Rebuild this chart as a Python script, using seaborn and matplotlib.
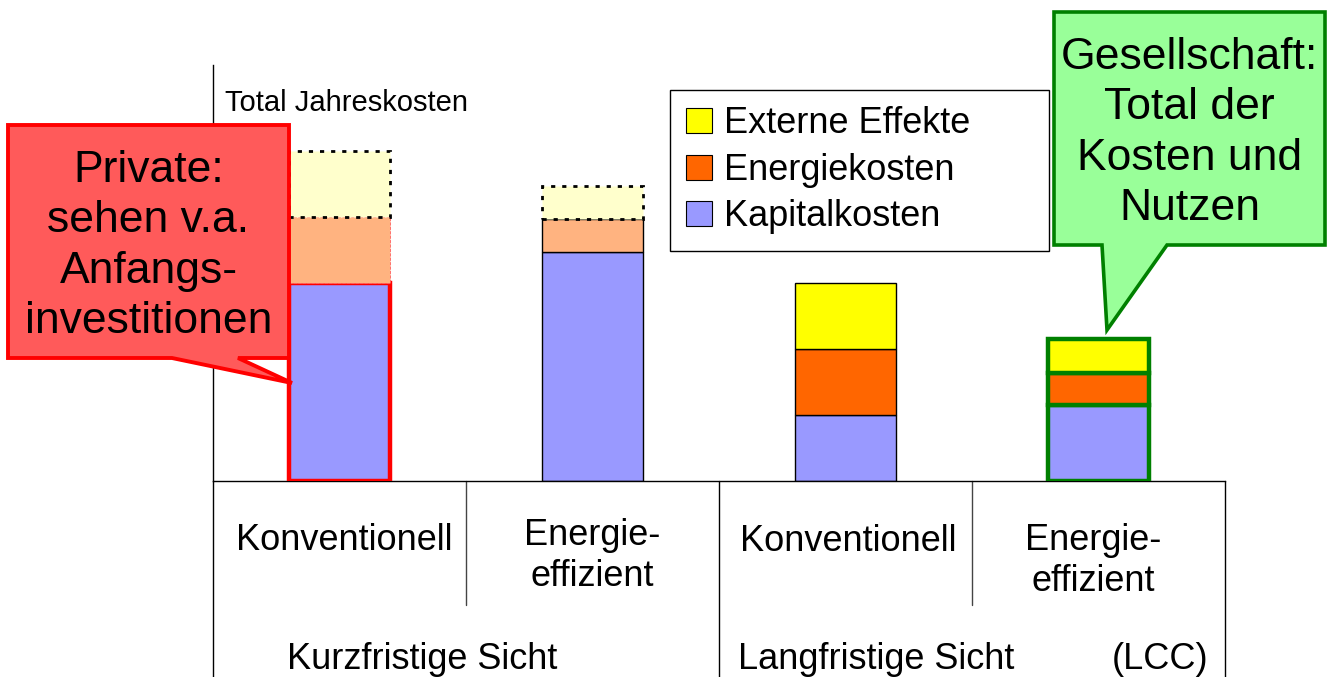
import matplotlib
matplotlib.use("Agg")
import matplotlib.pyplot as plt
import matplotlib.transforms as mtransforms
from matplotlib.patches import Patch, Polygon
import seaborn as sns

# Data (1 unit ~ one sixth of the first capital cost bar)
keys = ["konv_kurz", "eff_kurz", "konv_lang", "eff_lang"]
row1_labels = ["Konventionell", "Energie-\neffizient", "Konventionell", "Energie-\neffizient"]
kapital = [6.0, 6.95, 2.0, 2.3]
energie = [2.0, 1.0, 2.0, 0.97]
extern = [2.0, 1.0, 2.0, 1.03]
series_names = ["Kapitalkosten", "Energiekosten", "Externe Effekte"]

sns.set_style("white")
plt.rcParams["font.family"] = ["Liberation Sans", "DejaVu Sans"]
plt.rcParams["text.color"] = "black"

W, H = 1330, 677
fig = plt.figure(figsize=(W / 100, H / 100), dpi=100)
ax = fig.add_axes([213 / W, 1 - 481 / H, (1225 - 213) / W, (481 - 65) / H])

# stacked bars, one seaborn call per layer
bottom1 = kapital
bottom2 = [a + b for a, b in zip(kapital, energie)]
layers = [(kapital, None), (energie, bottom1), (extern, bottom2)]
groups = []
for vals, bot in layers:
    n0 = len(ax.patches)
    kw = {} if bot is None else {"bottom": bot}
    sns.barplot(x=keys, y=vals, width=0.4, errorbar=None, color="#9999FF", ax=ax, **kw)
    groups.append(ax.patches[n0:])

faces = [
    ["#9999FF"] * 4,
    ["#FFB380", "#FFB380", "#FF6600", "#FF6600"],
    ["#FFFFCC", "#FFFFCC", "#FFFF00", "#FFFF00"],
]
edges = [
    ["#FF0000", "black", "black", "#008000"],
    ["#FF6060", "black", "black", "#008000"],
    ["black", "black", "black", "#008000"],
]
widths = [
    [3.2, 1.0, 1.0, 3.2],
    [0.6, 1.0, 1.0, 3.2],
    [2.0, 2.0, 1.0, 3.2],
]
dotted = (0, (1.5, 2.5))
styles = [
    ["-", "-", "-", "-"],
    ["--", "-", "-", "-"],
    [dotted, dotted, "-", "-"],
]
for li, grp in enumerate(groups):
    for bi, p in enumerate(grp):
        p.set_facecolor(faces[li][bi])
        p.set_edgecolor(edges[li][bi])
        p.set_linewidth(widths[li][bi])
        p.set_linestyle(styles[li][bi])
# draw the callout-highlighted stacks on top
for grp in groups:
    grp[0].set_zorder(3)
    grp[3].set_zorder(3)

ax.set_xlim(-0.5, 3.5)
ax.set_ylim(0, 12.6)
ax.set_xticks([])
ax.set_yticks([])
ax.set_xlabel("")
ax.set_ylabel("")
for s in ["top", "right"]:
    ax.spines[s].set_visible(False)
for s in ["left", "bottom"]:
    ax.spines[s].set_linewidth(1.0)
    ax.spines[s].set_color("black")

ax.text(-0.453, 11.45, "Total Jahreskosten", fontsize=21, ha="left", va="center")

# category table below the bars
ymin = -5.94
ysep = -3.76
line_kw = dict(color="black", lw=1.0, clip_on=False)
ax.plot([-0.5, -0.5], [ymin, 0], **line_kw)
ax.plot([1.5, 1.5], [ymin, 0], **line_kw)
ax.plot([3.5, 3.5], [ymin, 0], **line_kw)
ax.plot([0.5, 0.5], [ysep, 0], color="#444444", lw=1.0, clip_on=False)
ax.plot([2.5, 2.5], [ysep, 0], color="#444444", lw=1.0, clip_on=False)

row1_y = [-1.79, -2.27, -1.82, -2.42]
row1_dx = [0.02, 0.0, 0.01, -0.02]
for i, (lab, yy) in enumerate(zip(row1_labels, row1_y)):
    ax.text(i + row1_dx[i], yy, lab, fontsize=26, ha="center", va="center", linespacing=1.2)
ax.text(-0.2075, -5.42, "Kurzfristige Sicht", fontsize=26, ha="left", va="center")
ax.text(1.575, -5.42, "Langfristige Sicht", fontsize=26, ha="left", va="center")
ax.text(3.053, -5.42, "(LCC)", fontsize=26, ha="left", va="center")

# legend
handles = [Patch(facecolor=faces[li][2], edgecolor="black", linewidth=0.8) for li in (2, 1, 0)]
leg = ax.legend(
    handles, series_names[::-1],
    loc="upper left",
    bbox_to_anchor=(670 / W, 1 - 90 / H - 0.01, (1049 - 670) / W, 0.01),
    bbox_transform=fig.transFigure, mode="expand",
    fontsize=26, fancybox=False, framealpha=1, edgecolor="black",
    handlelength=0.7, handleheight=0.7, handletextpad=0.35,
    labelspacing=0.32, borderpad=0.45, borderaxespad=0,
)
leg.get_frame().set_linewidth(1.0)

# speech-bubble callouts, in picture pixels (y downwards)
px = mtransforms.Affine2D().scale(1 / W, -1 / H).translate(0, 1) + fig.transFigure
red_box = [(8, 125), (289, 125), (289, 358), (238, 358), (292, 383), (172, 358), (8, 358)]
green_box = [(1054, 12), (1325, 12), (1325, 245), (1167, 245), (1107, 330), (1102, 245), (1054, 245)]
fig.add_artist(Polygon(red_box, closed=True, transform=px, facecolor="#FF5A5A",
                       edgecolor="#FF0000", linewidth=2.8, joinstyle="miter", zorder=5))
fig.add_artist(Polygon(green_box, closed=True, transform=px, facecolor="#99FF99",
                       edgecolor="#008000", linewidth=2.6, joinstyle="miter", zorder=5))
fig.text(148.5, 246, "Private:\nsehen v.a.\nAnfangs-\ninvestitionen", transform=px,
         fontsize=32, ha="center", va="center", linespacing=1.3, zorder=6)
fig.text(1189.5, 133, "Gesellschaft:\nTotal der\nKosten und\nNutzen", transform=px,
         fontsize=32, ha="center", va="center", linespacing=1.3, zorder=6)

fig.savefig("out.png", dpi=100)
